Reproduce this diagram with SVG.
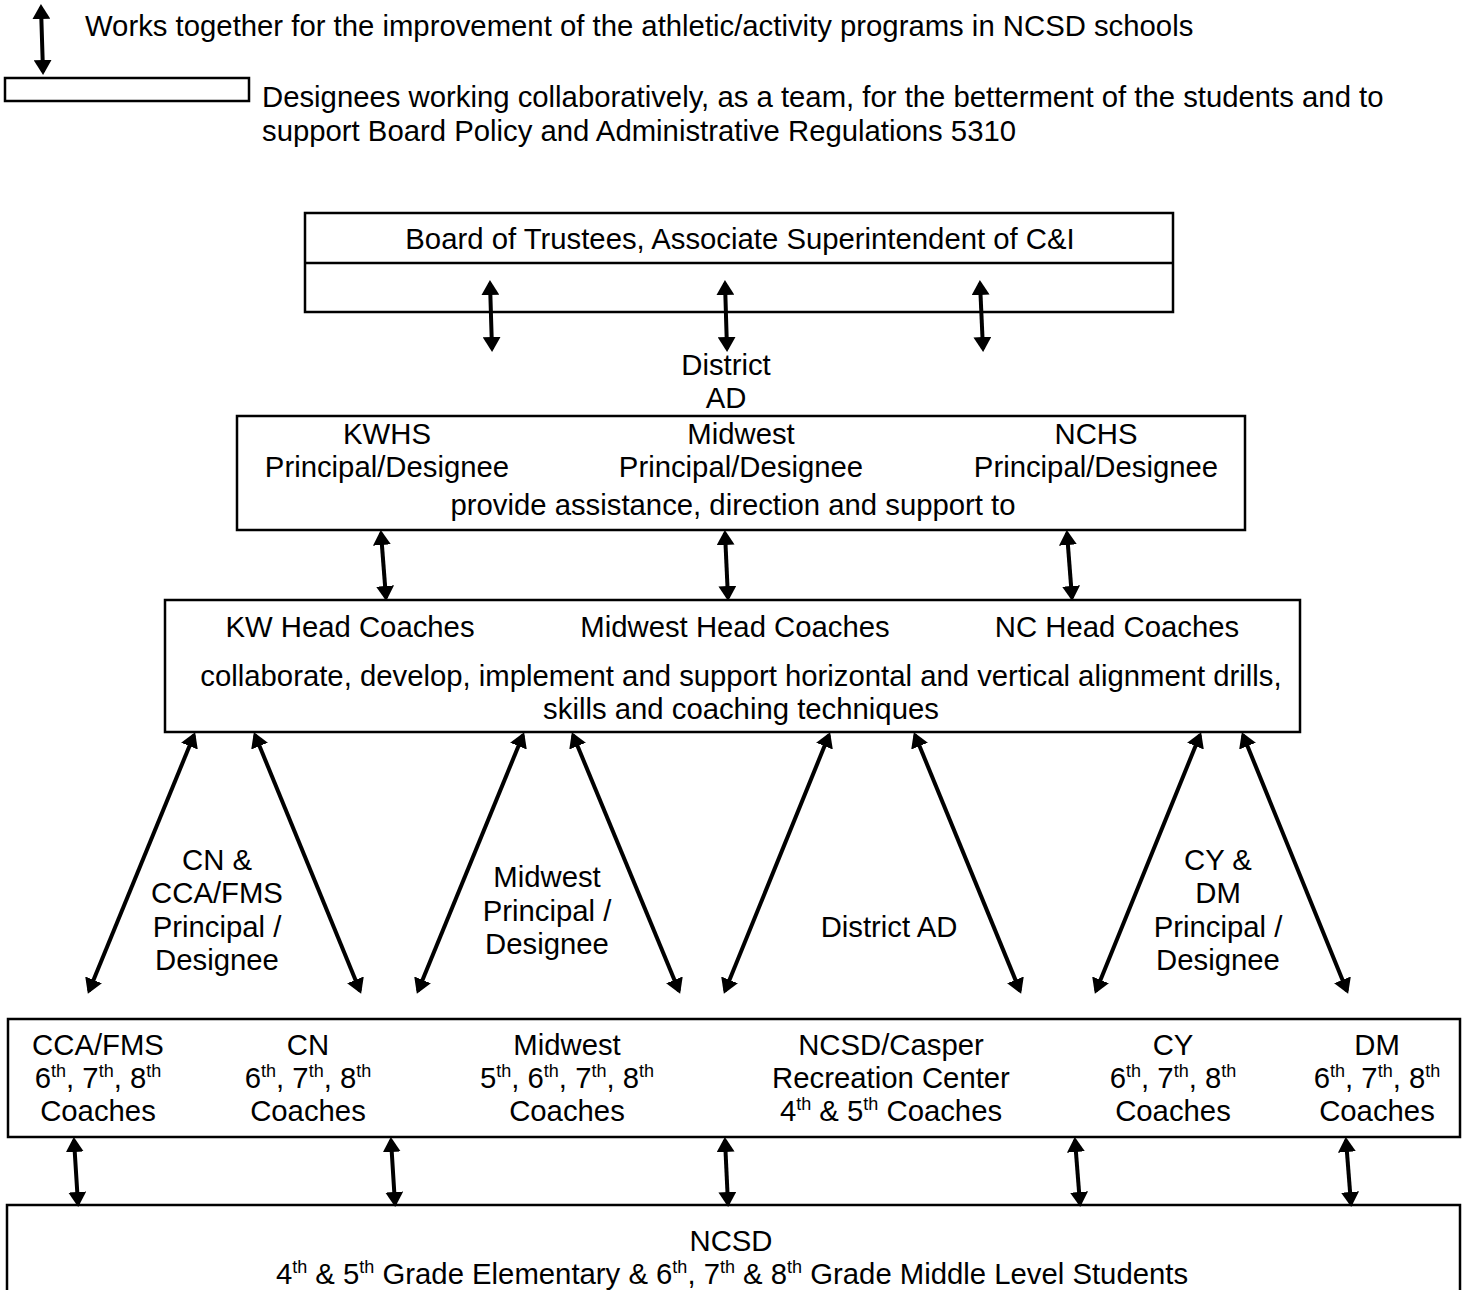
<svg xmlns="http://www.w3.org/2000/svg" width="1465" height="1290" viewBox="0 0 1465 1290">
<style>
text{font-family:"Liberation Sans",Arial,sans-serif;font-size:29.3px;fill:#000}
.c{text-anchor:middle}
.s{font-size:18px}
.box{fill:#fff;stroke:#000;stroke-width:2.5}
.ar{stroke:#000;stroke-width:4;fill:none;marker-start:url(#h);marker-end:url(#h)}
</style>
<defs>
<marker id="h" viewBox="0 0 10 12" refX="8" refY="6" markerWidth="15" markerHeight="18" markerUnits="userSpaceOnUse" orient="auto-start-reverse">
<path d="M0,0 L10,6 L0,12 z" fill="#000"/>
</marker>
</defs>
<g id="legend">
<line class="ar" x1="41" y1="7" x2="43" y2="72"/>
<text x="85" y="36">Works together for the improvement of the athletic/activity programs in NCSD schools</text>
<rect class="box" x="5" y="78" width="244" height="23"/>
<text x="262" y="107">Designees working collaboratively, as a team, for the betterment of the students and to</text>
<text x="262" y="141">support Board Policy and Administrative Regulations 5310</text>
</g>
<g id="board">
<rect class="box" x="305" y="213" width="868" height="99"/>
<line x1="305" y1="263" x2="1173" y2="263" stroke="#000" stroke-width="2.5"/>
<text class="c" x="740" y="249">Board of Trustees, Associate Superintendent of C&amp;I</text>
</g>
<g id="district-ad">
<text class="c" x="726" y="375">District</text>
<text class="c" x="726" y="408">AD</text>
</g>
<g id="principals">
<rect class="box" x="237" y="416" width="1008" height="114"/>
<text class="c" x="387" y="444">KWHS</text>
<text class="c" x="387" y="477">Principal/Designee</text>
<text class="c" x="741" y="444">Midwest</text>
<text class="c" x="741" y="477">Principal/Designee</text>
<text class="c" x="1096" y="444">NCHS</text>
<text class="c" x="1096" y="477">Principal/Designee</text>
<text class="c" x="733" y="515">provide assistance, direction and support to</text>
</g>
<g id="head-coaches">
<rect class="box" x="165" y="600" width="1135" height="132"/>
<text class="c" x="350" y="637">KW Head Coaches</text>
<text class="c" x="735" y="637">Midwest Head Coaches</text>
<text class="c" x="1117" y="637">NC Head Coaches</text>
<text class="c" x="741" y="686">collaborate, develop, implement and support horizontal and vertical alignment drills,</text>
<text class="c" x="741" y="719">skills and coaching techniques</text>
</g>
<g id="label-cn">
<text class="c" x="217" y="870">CN &amp;</text>
<text class="c" x="217" y="903">CCA/FMS</text>
<text class="c" x="217" y="937">Principal /</text>
<text class="c" x="217" y="970">Designee</text>
</g>
<g id="label-midwest">
<text class="c" x="547" y="887">Midwest</text>
<text class="c" x="547" y="921">Principal /</text>
<text class="c" x="547" y="954">Designee</text>
</g>
<g id="label-district">
<text class="c" x="889" y="937">District AD</text>
</g>
<g id="label-cy">
<text class="c" x="1218" y="870">CY &amp;</text>
<text class="c" x="1218" y="903">DM</text>
<text class="c" x="1218" y="937">Principal /</text>
<text class="c" x="1218" y="970">Designee</text>
</g>
<g id="coaches">
<rect class="box" x="8" y="1019" width="1452" height="118"/>
<text class="c" x="98" y="1055">CCA/FMS</text>
<text class="c" x="98" y="1088">6<tspan class="s" dy="-11">th</tspan><tspan dy="11">, 7</tspan><tspan class="s" dy="-11">th</tspan><tspan dy="11">, 8</tspan><tspan class="s" dy="-11">th</tspan></text>
<text class="c" x="98" y="1121">Coaches</text>
<text class="c" x="308" y="1055">CN</text>
<text class="c" x="308" y="1088">6<tspan class="s" dy="-11">th</tspan><tspan dy="11">, 7</tspan><tspan class="s" dy="-11">th</tspan><tspan dy="11">, 8</tspan><tspan class="s" dy="-11">th</tspan></text>
<text class="c" x="308" y="1121">Coaches</text>
<text class="c" x="567" y="1055">Midwest</text>
<text class="c" x="567" y="1088">5<tspan class="s" dy="-11">th</tspan><tspan dy="11">, 6</tspan><tspan class="s" dy="-11">th</tspan><tspan dy="11">, 7</tspan><tspan class="s" dy="-11">th</tspan><tspan dy="11">, 8</tspan><tspan class="s" dy="-11">th</tspan></text>
<text class="c" x="567" y="1121">Coaches</text>
<text class="c" x="891" y="1055">NCSD/Casper</text>
<text class="c" x="891" y="1088">Recreation Center</text>
<text class="c" x="891" y="1121">4<tspan class="s" dy="-11">th</tspan><tspan dy="11"> &amp; 5</tspan><tspan class="s" dy="-11">th</tspan><tspan dy="11"> Coaches</tspan></text>
<text class="c" x="1173" y="1055">CY</text>
<text class="c" x="1173" y="1088">6<tspan class="s" dy="-11">th</tspan><tspan dy="11">, 7</tspan><tspan class="s" dy="-11">th</tspan><tspan dy="11">, 8</tspan><tspan class="s" dy="-11">th</tspan></text>
<text class="c" x="1173" y="1121">Coaches</text>
<text class="c" x="1377" y="1055">DM</text>
<text class="c" x="1377" y="1088">6<tspan class="s" dy="-11">th</tspan><tspan dy="11">, 7</tspan><tspan class="s" dy="-11">th</tspan><tspan dy="11">, 8</tspan><tspan class="s" dy="-11">th</tspan></text>
<text class="c" x="1377" y="1121">Coaches</text>
</g>
<g id="students">
<rect class="box" x="7" y="1205" width="1453" height="95"/>
<text class="c" x="731" y="1251">NCSD</text>
<text class="c" x="732" y="1284">4<tspan class="s" dy="-11">th</tspan><tspan dy="11"> &amp; 5</tspan><tspan class="s" dy="-11">th</tspan><tspan dy="11"> Grade Elementary &amp; 6</tspan><tspan class="s" dy="-11">th</tspan><tspan dy="11">, 7</tspan><tspan class="s" dy="-11">th</tspan><tspan dy="11"> &amp; 8</tspan><tspan class="s" dy="-11">th</tspan><tspan dy="11"> Grade Middle Level Students</tspan></text>
</g>
<g id="connectors">
<line class="ar" x1="490" y1="283" x2="492" y2="349"/>
<line class="ar" x1="725" y1="283" x2="727" y2="349"/>
<line class="ar" x1="980" y1="283" x2="983" y2="349"/>
<line class="ar" x1="381" y1="533" x2="386" y2="598"/>
<line class="ar" x1="725" y1="533" x2="728" y2="598"/>
<line class="ar" x1="1067" y1="533" x2="1072" y2="598"/>
<line class="ar" x1="194" y1="735" x2="89" y2="991"/>
<line class="ar" x1="255" y1="735" x2="360" y2="991"/>
<line class="ar" x1="523" y1="735" x2="418" y2="991"/>
<line class="ar" x1="573" y1="735" x2="679" y2="991"/>
<line class="ar" x1="829" y1="735" x2="725" y2="991"/>
<line class="ar" x1="915" y1="735" x2="1020" y2="991"/>
<line class="ar" x1="1200" y1="735" x2="1096" y2="991"/>
<line class="ar" x1="1243" y1="735" x2="1347" y2="991"/>
<line class="ar" x1="74" y1="1140" x2="78" y2="1204"/>
<line class="ar" x1="391" y1="1140" x2="395" y2="1204"/>
<line class="ar" x1="725" y1="1140" x2="728" y2="1204"/>
<line class="ar" x1="1075" y1="1140" x2="1080" y2="1204"/>
<line class="ar" x1="1346" y1="1140" x2="1351" y2="1204"/>
</g>
</svg>
